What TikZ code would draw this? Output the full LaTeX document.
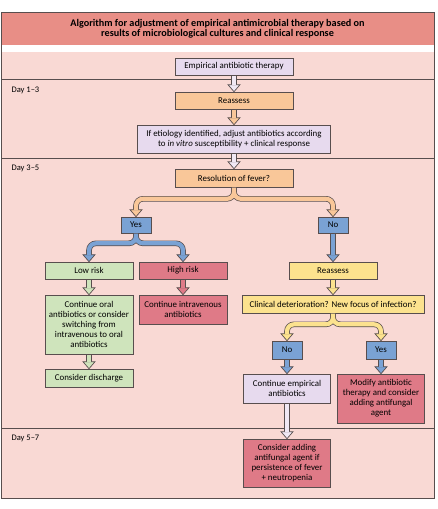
\documentclass[tikz,border=0pt]{standalone}
\usepackage{fontspec}
\setmainfont{Carlito}
\usetikzlibrary{calc}
\definecolor{bgpink}{RGB}{249,217,212}
\definecolor{titlebg}{RGB}{232,142,134}
\definecolor{lav}{RGB}{231,218,238}
\definecolor{lavarr}{RGB}{240,232,244}
\definecolor{org}{RGB}{249,199,153}
\definecolor{blu}{RGB}{122,162,212}
\definecolor{grn}{RGB}{207,228,188}
\definecolor{rbox}{RGB}{223,122,135}
\definecolor{yel}{RGB}{252,226,142}
\definecolor{edge}{RGB}{88,78,78}
\newcommand\sarr[3]{%
 \draw[line width=5.6pt,draw=edge] (#2.south -| #3.north) -- ($(#3.north)+(0,-6.5)$);
 \filldraw[fill=#1,draw=edge,line width=0.7pt] ($(#3.north)+(-6,-7)$) -- ($(#3.north)+(6,-7)$) -- (#3.north) -- cycle;
 \draw[line width=4.2pt,draw=#1] ($(#2.south -| #3.north)+(0,0.4)$) -- ($(#3.north)+(0,-6.6)$);
}
\newcommand\barr[5]{%
 \draw[line width=5.6pt,draw=edge,rounded corners=7pt] (#2.south) -- ($(#2.south)+(0,#5)$) -| ($(#3.north)+(0,-6.5)$)
   (#2.south) -- ($(#2.south)+(0,#5)$) -| ($(#4.north)+(0,-6.5)$);
 \filldraw[fill=#1,draw=edge,line width=0.7pt] ($(#3.north)+(-6,-7)$) -- ($(#3.north)+(6,-7)$) -- (#3.north) -- cycle;
 \filldraw[fill=#1,draw=edge,line width=0.7pt] ($(#4.north)+(-6,-7)$) -- ($(#4.north)+(6,-7)$) -- (#4.north) -- cycle;
 \draw[line width=4.2pt,draw=#1,rounded corners=7pt] ($(#2.south)+(0,0.4)$) -- ($(#2.south)+(0,#5)$) -| ($(#3.north)+(0,-6.6)$)
   ($(#2.south)+(0,0.4)$) -- ($(#2.south)+(0,#5)$) -| ($(#4.north)+(0,-6.6)$);
}
\begin{document}
\begin{tikzpicture}[x=1pt,y=-1pt,
  every node/.style={font=\fontsize{8.9}{10}\selectfont},
  box/.style={draw=edge,line width=0.6pt,align=center,inner sep=1pt},
  daylbl/.style={anchor=west,font=\fontsize{8.5}{9}\selectfont}]
\useasboundingbox (0,0) rectangle (437,509);
\fill[bgpink] (1,52) rectangle (434,498);
\fill[white] (1,45) rectangle (434,52);
\fill[titlebg] (1,12) rectangle (434,45);
\draw[edge,line width=0.6pt] (1,12) rectangle (434,498);
\draw[edge,line width=0.6pt] (1,79) -- (434,79);
\draw[edge,line width=0.6pt] (1,158) -- (434,158);
\draw[edge,line width=0.6pt] (1,428) -- (434,428);
\node[align=center,font=\fontsize{10.2}{10.4}\selectfont\bfseries] (title) at (217.5,29)
 {Algorithm for adjustment of empirical antimicrobial therapy based on\\results of microbiological cultures and clinical response};
\node[daylbl] (d1) at (8,90) {Day 1–3};
\node[daylbl] (d2) at (8,168) {Day 3–5};
\node[daylbl] (d3) at (8,438) {Day 5–7};
% boxes
\node[box,fill=lav,minimum width=118pt,minimum height=17pt] (emp) at (234,66.5) {Empirical antibiotic therapy};
\node[box,fill=org,minimum width=118pt,minimum height=17pt] (re1) at (234,100.5) {Reassess};
\node[box,fill=lav,minimum width=193pt,minimum height=28pt] (etio) at (234,139) {If etiology identified, adjust antibiotics according\\to \textit{in vitro} susceptibility + clinical response};
\node[box,fill=org,minimum width=118pt,minimum height=18pt] (res) at (234,178) {Resolution of fever?};
\node[box,fill=blu,minimum width=30pt,minimum height=16pt] (yes1) at (136,225) {Yes};
\node[box,fill=blu,minimum width=30pt,minimum height=16pt] (no1) at (333,225) {No};
\node[box,fill=grn,minimum width=88pt,minimum height=17pt] (low) at (89,270.5) {Low risk};
\node[box,fill=rbox,minimum width=88pt,minimum height=17pt] (high) at (183,270.5) {High risk};
\node[box,fill=yel,minimum width=88pt,minimum height=17pt] (re2) at (333,270.5) {Reassess};
\node[box,fill=grn,minimum width=88pt,minimum height=59pt] (cont) at (89,324.5) {Continue oral\\antibiotics or consider\\switching from\\intravenous to oral\\antibiotics};
\node[box,fill=rbox,minimum width=88pt,minimum height=29pt] (iv) at (183,309.5) {Continue intravenous\\antibiotics};
\node[box,fill=yel,minimum width=182pt,minimum height=18pt] (clin) at (333,304) {Clinical deterioration? New focus of infection?};
\node[box,fill=grn,minimum width=88pt,minimum height=18pt] (disc) at (89,378) {Consider discharge};
\node[box,fill=blu,minimum width=30pt,minimum height=18pt] (no2) at (287,350) {No};
\node[box,fill=blu,minimum width=30pt,minimum height=18pt] (yes2) at (381,350) {Yes};
\node[box,fill=lav,minimum width=87pt,minimum height=29pt] (empc) at (287,388.5) {Continue empirical\\antibiotics};
\node[box,fill=rbox,minimum width=87pt,minimum height=49pt] (mod) at (381,398.5) {Modify antibiotic\\therapy and consider\\adding antifungal\\agent};
\node[box,fill=rbox,minimum width=87pt,minimum height=48pt] (anti) at (287,463) {Consider adding\\antifungal agent if\\persistence of fever\\+ neutropenia};
% arrows
\sarr{lavarr}{emp}{re1}
\sarr{org}{re1}{etio}
\sarr{lavarr}{etio}{res}
\barr{org}{res}{yes1}{no1}{11.5}
\barr{blu}{yes1}{low}{high}{10}
\sarr{blu}{no1}{re2}
\sarr{grn}{low}{cont}
\sarr{rbox}{high}{iv}
\sarr{yel}{re2}{clin}
\sarr{grn}{cont}{disc}
\barr{yel}{clin}{no2}{yes2}{11}
\sarr{blu}{no2}{empc}
\sarr{blu}{yes2}{mod}
\sarr{lavarr}{empc}{anti}
\end{tikzpicture}
\end{document}
